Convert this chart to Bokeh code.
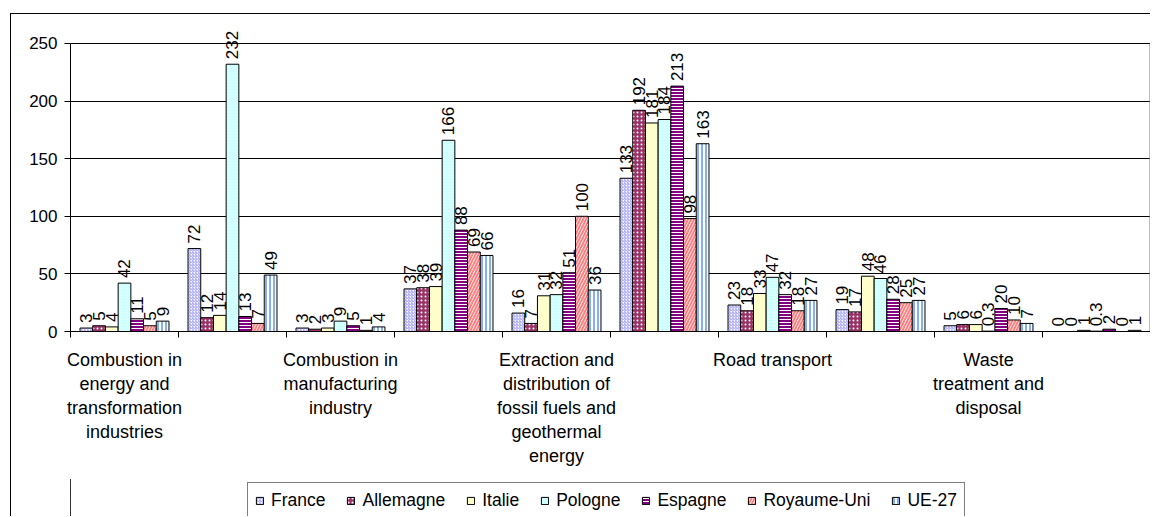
import numpy as np
from bokeh.plotting import figure
from bokeh.layouts import column
from bokeh.models import (ColumnDataSource, FixedTicker, Legend, LegendItem,
                          Range1d, LabelSet)
from bokeh.transform import dodge
from bokeh.core.properties import value
from bokeh.embed import file_html
from bokeh.resources import INLINE

# ---------------- data ----------------
sectors = [
    "Combustion in energy and transformation industries",
    "Non-industrial combustion plants",
    "Combustion in manufacturing industry",
    "Production processes",
    "Extraction and distribution of fossil fuels and geothermal energy",
    "Solvent and other product use",
    "Road transport",
    "Other mobile sources and machinery",
    "Waste treatment and disposal",
    "Agriculture",
]
# wrapped category labels (Excel shows every other one)
tick_labels = [
    "Combustion in\nenergy and\ntransformation\nindustries",
    "",
    "Combustion in\nmanufacturing\nindustry",
    "",
    "Extraction and\ndistribution of\nfossil fuels and\ngeothermal\nenergy",
    "",
    "Road transport",
    "",
    "Waste\ntreatment and\ndisposal",
    "",
]
series_names = ["France", "Allemagne", "Italie", "Pologne", "Espagne", "Royaume-Uni", "UE-27"]
france      = [3, 72, 3, 37, 16, 133, 23, 19, 5, 0]
allemagne   = [5, 12, 2, 38, 7, 192, 18, 17, 6, 0]
italie      = [4, 14, 3, 39, 31, 181, 33, 48, 6, 1]
pologne     = [42, 232, 9, 166, 32, 184, 47, 46, 0.3, 0.3]
espagne     = [11, 13, 5, 88, 51, 213, 32, 28, 20, 2]
royaume_uni = [5, 7, 1, 69, 100, 98, 18, 25, 10, 0]
ue27        = [9, 49, 4, 66, 36, 163, 27, 27, 7, 1]
y_ticks = [0, 50, 100, 150, 200, 250]

series_values = [france, allemagne, italie, pologne, espagne, royaume_uni, ue27]

# ---------------- styles ----------------
styles = [
    dict(fill_color="#FFFFFF", hatch_pattern="/", hatch_color="#9999FF", hatch_scale=3, hatch_weight=1),
    dict(fill_color="#993366", hatch_pattern=".", hatch_color="#FFFFFF", hatch_scale=4, hatch_weight=1),
    dict(fill_color="#FFFFCC"),
    dict(fill_color="#CCFFFF", hatch_pattern=".", hatch_color="#F0FFFF", hatch_scale=3, hatch_weight=1),
    dict(fill_color="#800080", hatch_pattern="-", hatch_color="#FFFFFF", hatch_scale=3, hatch_weight=1),
    dict(fill_color="#FFFFFF", hatch_pattern="/", hatch_color="#FF8080", hatch_scale=6, hatch_weight=2),
    dict(fill_color="#FFFFFF", hatch_pattern="|", hatch_color="#3377EE", hatch_scale=4, hatch_weight=1.2),
]

FONT = "Liberation Sans"

def fmt(v):
    return ("%g" % v)

data = dict(group=list(range(1, len(sectors) + 1)), sector=sectors)
keys = []
for name, vals in zip(series_names, series_values):
    k = name.replace("-", "_").lower()
    keys.append(k)
    data[k] = vals
    data[k + "_lbl"] = [fmt(v) for v in vals]
source = ColumnDataSource(data)

# ---------------- main chart ----------------
y_top = 274.3   # headroom above 250 for the rotated value labels
p = figure(width=1140, height=466, output_backend="svg", toolbar_location=None,
           x_range=Range1d(0.5, 10.5), y_range=Range1d(0, y_top))
p.styles = {"margin-left": "10px", "margin-top": "13px",
            "border-left": "1px solid black", "border-top": "1px solid black"}
p.frame_align = False
p.min_border_left = 59
p.min_border_top = 1
p.min_border_bottom = 149
p.min_border_right = 1
p.background_fill_color = "white"
p.border_fill_color = "white"
p.outline_line_color = None

n = len(series_names)
bw = 1.0 / (n + 1.5)
renderers = []
for j, (name, k) in enumerate(zip(series_names, keys)):
    off = (j - (n - 1) / 2) * bw
    r = p.vbar(x=dodge("group", off, range=p.x_range), top=k, width=bw, source=source,
               line_color="black", line_width=1, **styles[j])
    renderers.append(r)
    lbl = LabelSet(x=dodge("group", off, range=p.x_range), y=k, text=k + "_lbl", source=source,
                   angle=np.pi / 2, text_align="left", text_baseline="middle",
                   y_offset=5, text_font=value(FONT), text_font_size="17px",
                   text_color="black")
    p.add_layout(lbl)

# right border of the plot area (grey), from 0 to the top tick
p.segment(x0=[p.x_range.end], y0=[y_ticks[0]], x1=[p.x_range.end], y1=[y_ticks[-1]],
          line_color="#808080", line_width=2)

# grid
p.xgrid.grid_line_color = None
p.ygrid.grid_line_color = "black"
p.ygrid.grid_line_width = 1
p.ygrid.ticker = FixedTicker(ticks=y_ticks)

# y axis
p.yaxis.ticker = FixedTicker(ticks=y_ticks)
p.yaxis.bounds = (y_ticks[0], y_ticks[-1])
p.yaxis.major_tick_out = 6
p.yaxis.major_tick_in = 0
p.yaxis.minor_tick_line_color = None
p.yaxis.axis_line_color = "black"
p.yaxis.major_tick_line_color = "black"
p.yaxis.major_label_text_font = FONT
p.yaxis.major_label_text_font_size = "17px"
p.yaxis.major_label_text_color = "black"
p.yaxis.major_label_standoff = 7

# x axis: labels at odd groups, ticks between groups
p.xaxis.ticker = FixedTicker(ticks=[g for g in range(1, 11) if tick_labels[g - 1]],
                             minor_ticks=[g + 0.5 for g in range(0, 11)])
p.xaxis.major_label_overrides = {g: tick_labels[g - 1] for g in range(1, 11) if tick_labels[g - 1]}
p.xaxis.major_tick_out = 0
p.xaxis.major_tick_in = 0
p.xaxis.major_tick_line_color = None
p.xaxis.minor_tick_out = 6
p.xaxis.minor_tick_in = 0
p.xaxis.minor_tick_line_color = "black"
p.xaxis.axis_line_color = "black"
p.xaxis.major_label_text_font = FONT
p.xaxis.major_label_text_font_size = "18px"
p.xaxis.major_label_text_color = "black"
p.xaxis.major_label_text_line_height = 1.2
p.xaxis.major_label_standoff = 12

# ---------------- legend strip ----------------
pl = figure(width=1140, height=37, output_backend="svg", toolbar_location=None,
            x_range=Range1d(0, 1), y_range=Range1d(0, 1),
            x_axis_location=None, y_axis_location=None)
pl.styles = {"margin-left": "10px", "border-left": "1px solid black"}
pl.frame_align = False
pl.min_border = 0
pl.min_border_left = 59
pl.min_border_right = 1
pl.min_border_top = 0
pl.min_border_bottom = 0
pl.outline_line_color = None
pl.xgrid.grid_line_color = None
pl.ygrid.grid_line_color = None
pl.background_fill_color = "white"
pl.border_fill_color = "white"

# legend swatches: renderers kept outside the visible range of the strip
legend_renderers = []
for j in range(n):
    rr = pl.vbar(x=[-5], top=[1], width=bw, line_color="black", line_width=1, **styles[j])
    legend_renderers.append(rr)

legend = Legend(items=[LegendItem(label=nm, renderers=[r]) for nm, r in zip(series_names, legend_renderers)],
                orientation="horizontal", location=(177, -3))
legend.label_text_font = FONT
legend.label_text_font_size = "17.5px"
legend.label_text_color = "black"
legend.glyph_width = 9
legend.glyph_height = 9
legend.label_standoff = 7
legend.spacing = 21
legend.padding = 7
legend.margin = 0
legend.label_height = 18
legend.border_line_color = "black"
legend.border_line_width = 1
legend.background_fill_color = "white"
pl.add_layout(legend, "center")

layout = column(p, pl, spacing=0)
open("out.html", "w").write(file_html(layout, INLINE))
